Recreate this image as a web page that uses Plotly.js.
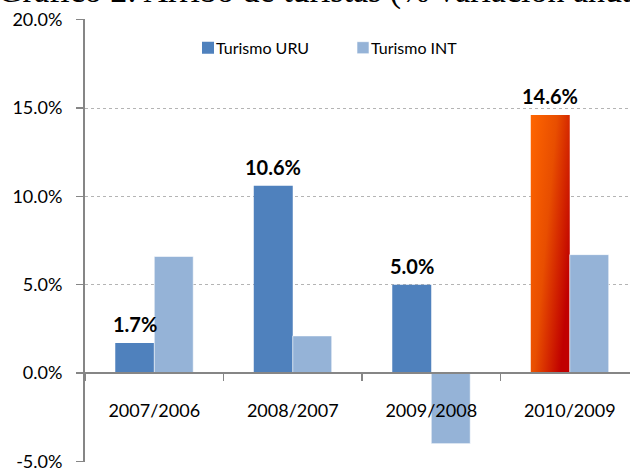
<!DOCTYPE html>
<html>
<head>
<meta charset="utf-8">
<script src="https://cdn.plot.ly/plotly-3.0.1.min.js"></script>
<style>
  html, body { margin: 0; padding: 0; background: #ffffff; }
  #chart { width: 630px; height: 470px; }
</style>
</head>
<body>
<div id="chart"></div>
<script>
const categories = ["2007/2006", "2008/2007", "2009/2008", "2010/2009"];
const seriesNames = ["Turismo URU", "Turismo INT"];
const uruValues = [1.7, 10.6, 5.0, 14.6];
const intValues = [6.6, 2.1, -4.0, 6.7];
const yTickValues = [-5, 0, 5, 10, 15, 20];
const yTickLabels = ["-5.0%", "0.0%", "5.0%", "10.0%", "15.0%", "20.0%"];
const chartTitle = "Gráfico 2: Arribo de turistas (% variación anual)";

const FONT = "Lato, 'Open Sans', sans-serif";
const BARGAP = 0.437;
const yRange = [-5.04, 20.04];

const traces = [
  {
    type: "bar",
    name: seriesNames[0],
    x: categories,
    y: uruValues,
    marker: { color: "#4F81BD" },
    cliponaxis: false
  },
  {
    type: "bar",
    name: seriesNames[1],
    x: categories,
    y: intValues,
    marker: { color: "#95B3D7", line: { color: "#ffffff", width: 0.6 } },
    cliponaxis: false
  }
];

const plotWidthPx = 630 - 85;
const xRange = [-0.5, 3.435];
const pxPerCat = plotWidthPx / (xRange[1] - xRange[0]);
const uruShift = -0.25 * (1 - BARGAP) * pxPerCat;

const annotations = uruValues.map((v, i) => ({
  x: categories[i],
  y: v,
  xref: "x",
  yref: "y",
  text: "<b>" + v.toFixed(1) + "%</b>",
  showarrow: false,
  xanchor: "center",
  yanchor: "bottom",
  xshift: uruShift,
  yshift: 5,
  font: { family: FONT, size: 20, color: "#000000" }
}));

annotations.push({
  xref: "paper",
  yref: "paper",
  x: (328 - 85) / plotWidthPx,
  y: 1,
  xanchor: "center",
  yanchor: "bottom",
  yshift: 6.5,
  text: chartTitle,
  showarrow: false,
  font: { family: "'Liberation Serif', 'Times New Roman', serif", size: 34, color: "#000000" }
});

const layout = {
  width: 630,
  height: 470,
  margin: { l: 85, r: 0, t: 19, b: 8, pad: 0 },
  paper_bgcolor: "#ffffff",
  plot_bgcolor: "#ffffff",
  barmode: "group",
  bargap: BARGAP,
  bargroupgap: 0,
  showlegend: true,
  legend: {
    orientation: "h",
    x: (188 - 85) / plotWidthPx,
    xanchor: "left",
    y: 0.935,
    yanchor: "middle",
    font: { family: FONT, size: 16, color: "#000000" },
    bgcolor: "rgba(0,0,0,0)",
    entrywidth: 110,
    traceorder: "normal"
  },
  xaxis: {
    type: "category",
    range: xRange,
    anchor: "free",
    position: (0 - yRange[0]) / (yRange[1] - yRange[0]),
    showline: true,
    linecolor: "#868686",
    linewidth: 2,
    ticks: "outside",
    tickson: "boundaries",
    ticklen: 7,
    tickwidth: 1.5,
    tickcolor: "#868686",
    ticklabelstandoff: 21,
    showgrid: false,
    zeroline: false,
    tickfont: { family: FONT, size: 18, color: "#000000" },
    fixedrange: true
  },
  yaxis: {
    range: yRange,
    tickmode: "array",
    tickvals: yTickValues,
    ticktext: yTickLabels,
    showline: true,
    linecolor: "#868686",
    linewidth: 2,
    ticks: "outside",
    ticklen: 7,
    tickwidth: 1.5,
    tickcolor: "#868686",
    ticklabelstandoff: 10,
    ticklabeloverflow: "allow",
    showgrid: true,
    gridcolor: "#b4b4b4",
    gridwidth: 1,
    griddash: "dot",
    zeroline: false,
    tickfont: { family: FONT, size: 18, color: "#000000" },
    fixedrange: true
  },
  annotations: annotations
};

Plotly.newPlot("chart", traces, layout, { staticPlot: true, displayModeBar: false }).then(function (gd) {
  const svgNS = "http://www.w3.org/2000/svg";
  const svg = gd.querySelector("svg.main-svg");
  let defs = svg.querySelector("defs");
  if (!defs) { defs = document.createElementNS(svgNS, "defs"); svg.insertBefore(defs, svg.firstChild); }
  const grad = document.createElementNS(svgNS, "linearGradient");
  grad.setAttribute("id", "orangeGrad");
  grad.setAttribute("x1", "0"); grad.setAttribute("y1", "0");
  grad.setAttribute("x2", "1"); grad.setAttribute("y2", "0.6");
  [["0", "#FF6600"], ["0.5", "#E84E00"], ["1", "#C00000"]].forEach(function (s) {
    const st = document.createElementNS(svgNS, "stop");
    st.setAttribute("offset", s[0]);
    st.setAttribute("stop-color", s[1]);
    grad.appendChild(st);
  });
  defs.appendChild(grad);
  const barTraces = gd.querySelectorAll(".barlayer .trace");
  if (barTraces.length) {
    const pts = barTraces[0].querySelectorAll(".point path");
    const maxIdx = uruValues.indexOf(Math.max.apply(null, uruValues));
    if (pts[maxIdx]) pts[maxIdx].style.fill = "url(#orangeGrad)";
  }
  // tighten the gap between legend swatch and its label
  gd.querySelectorAll(".legend .legendtext").forEach(function (t) {
    const x0 = parseFloat(t.getAttribute("x")) || 0;
    t.setAttribute("x", x0 - 12);
  });
});
</script>
</body>
</html>
